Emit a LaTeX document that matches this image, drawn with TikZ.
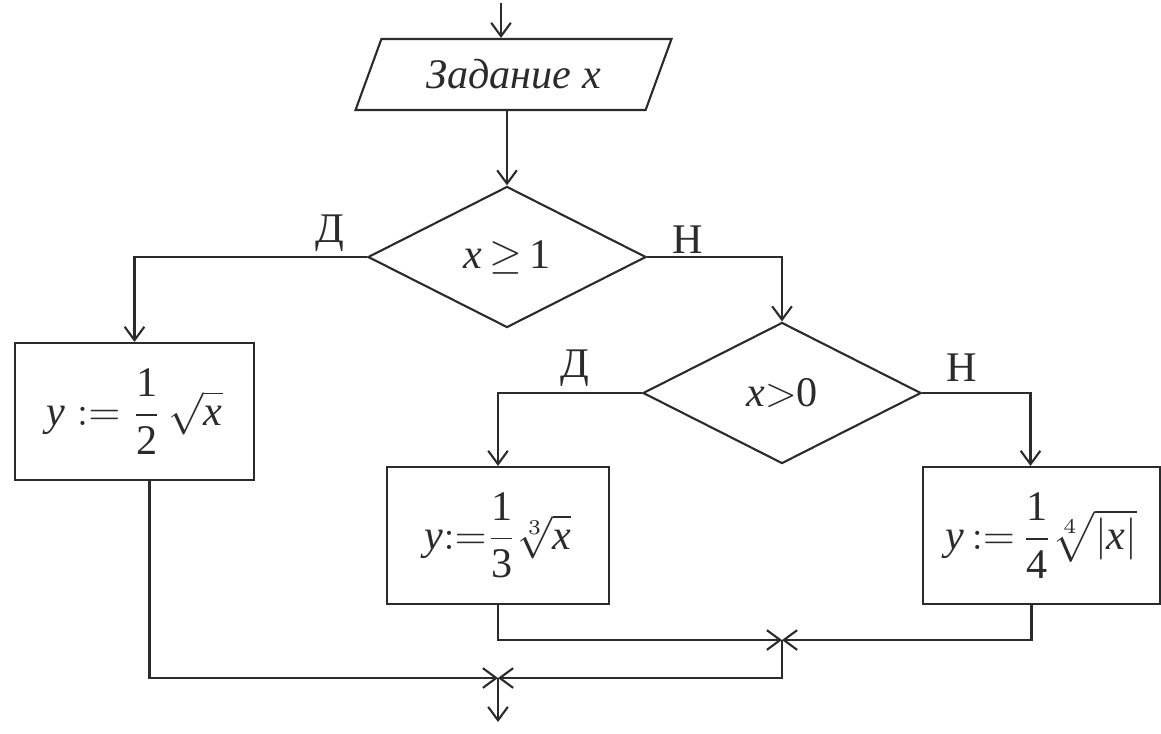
\documentclass[tikz,border=0pt]{standalone}
\usepackage{amsmath}
\usepackage{fontspec}
\setmainfont{Liberation Serif}
\usetikzlibrary{positioning,arrows.meta,shapes.geometric,calc}
\definecolor{inkgray}{HTML}{2B2B2B}
\newcommand{\tv}[1]{\textit{#1}}
\newcommand{\tn}[1]{\textup{#1}}

\begin{document}
\begin{tikzpicture}[
    x=0.01cm, y=-0.01cm,
    every node/.style={font=\fontsize{12}{14}\selectfont, text=inkgray},
    line/.style={draw=inkgray, line width=0.6pt},
    flow/.style={line, -{Straight Barb[length=3.8pt, width=5.6pt]}},
    block/.style={rectangle, draw=inkgray, line width=0.6pt, inner sep=0pt, minimum height=1.37cm},
    decision/.style={diamond, draw=inkgray, line width=0.6pt, inner sep=0pt, minimum width=2.78cm, minimum height=1.41cm},
    io/.style={trapezium, trapezium left angle=70, trapezium right angle=110, trapezium stretches=true,
        draw=inkgray, line width=0.6pt, minimum width=3.17cm, minimum height=0.71cm}
]
    \useasboundingbox (0,0) rectangle (1161,733);

    % Input of x
    \coordinate (start) at (501,3);
    \node[io] (input) at (513.5,74.5) {\itshape Задание x};

    % First test
    \node[decision] (cond1) at (507,257) {$\tv{x}\,{\geq}\,\tn{1}$};
    \node (yes1lbl) at (330,233) {Д};
    \node (no1lbl) at (688,240) {Н};

    % Second test
    \node[decision] (cond2) at (782,393) {$\tv{x}{>}\tn{0}$};
    \node (yes2lbl) at (575,368) {Д};
    \node (no2lbl) at (962,368) {Н};

    % Computation blocks
    \node[block, minimum width=2.39cm] (calc1) at (134.5,411.5) {$\tv{y} := \dfrac{\tn{1}}{\tn{2}}\,\sqrt{\tv{x}}$};
    \node[block, minimum width=2.22cm] (calc2) at (498,535.5) {$\tv{y}{:=}\dfrac{\tn{1}}{\tn{3}}\sqrt[3]{\tv{x}}$};
    \node[block, minimum width=2.37cm] (calc3) at (1041.5,535.5) {$\tv{y}\,{:=}\,\dfrac{\tn{1}}{\tn{4}}\sqrt[4]{|\tv{x}|}$};

    % Merge points
    \coordinate (join1) at (782,640);
    \coordinate (join2) at (498,678);
    \coordinate (finish) at (498,722);

    % Connectors
    \draw[flow] (start) -- (start |- input.north);
    \draw[flow] (cond1.north |- input.south) -- (cond1.north);
    \draw[flow] (cond1.west) -| (calc1.north);
    \draw[flow] (cond1.east) -| (cond2.north);
    \draw[flow] (cond2.west) -| (calc2.north);
    \draw[flow] (cond2.east) -| ([xshift=-0.11cm]calc3.north);
    \draw[flow] (calc2.south) |- (join1);
    \draw[flow] ([xshift=-0.1cm]calc3.south) |- (join1);
    \draw[flow] (join1) |- (join2);
    \draw[flow] ([xshift=0.15cm]calc1.south) |- (join2);
    \draw[flow] (join2) -- (finish);
\end{tikzpicture}
\end{document}
